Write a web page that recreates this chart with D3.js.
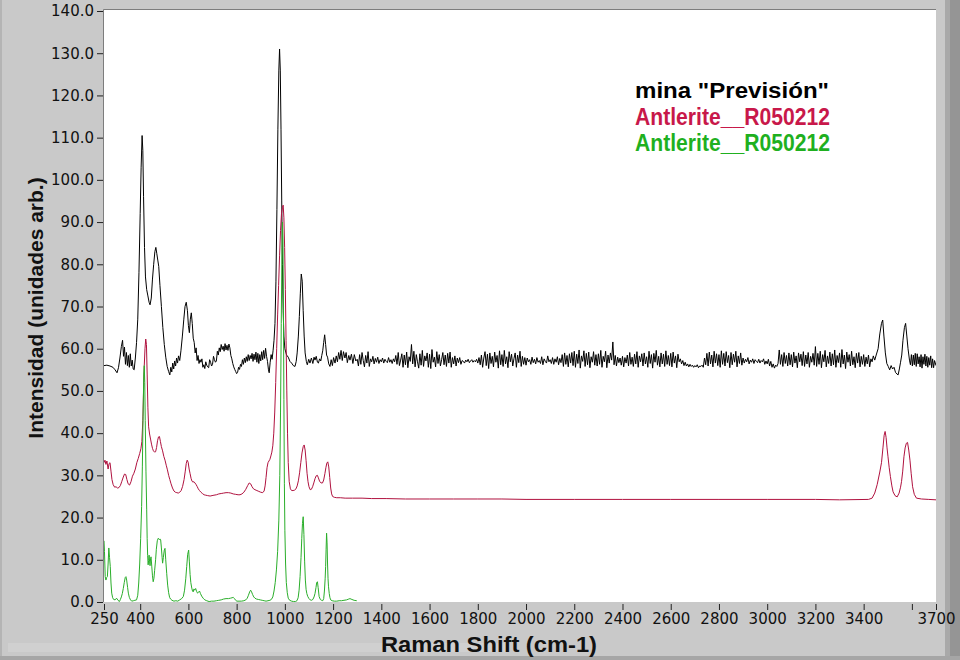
<!DOCTYPE html>
<html>
<head>
<meta charset="utf-8">
<script src="https://cdn.jsdelivr.net/npm/d3@7"></script>
<style>
  html, body { margin: 0; padding: 0; background: #c9c9c9; }
  svg { display: block; }
</style>
</head>
<body>
<svg id="viz" width="960" height="660"></svg>
<script>
// ----- data: [Raman shift (cm-1), intensity] -----

// mina "Previsión" (black) - peaks and baseline up to 1300
const minaLow = [
  [250,56],[262,56.1],[275,55.9],[287,55.6],[296,55],[304,54.3],[310,55.5],[316,57.8],[322,60.5],[327,62],
  [331,58.2],[335,60.4],[339,56.3],[343,59.1],[347,56],[351,58.4],[355,55.6],[359,58.8],[363,55.9],[367,57.3],
  [371,55.2],[375,55],[380,57.8],[385,61.5],[390,67],[395,78],[400,92],[404,103],[408,110.5],[411,107],
  [414,96],[418,84],[422,77],[427,74],[432,72.5],[437,71],[441,70.4],[446,72],[451,76.5],[456,80],
  [461,83],[465,84],[469,82.5],[473,81],[477,79.5],[482,75],[488,70],[494,65],[500,61],[506,58],
  [512,55.8],[518,54.6],[523,53.8],[527,55.6],[531,54.5],[535,56.6],[539,55.2],[543,57.1],[547,55.9],[551,57.8],
  [555,56.6],[559,58.3],[564,57.2],[569,59.5],[575,63],[581,67],[586,70],[591,71],[596,69],[600,65.5],
  [604,63.8],[608,67],[612,68.5],[616,66],[620,62.5],[624,61.5],[628,59],[632,60.2],[636,57.2],[640,58.4],
  [644,56.5],[648,57.4],[652,56.8],[656,57.6],[660,55.6],[664,56.2],[668,55.3],[672,56.9],[676,56.1],[680,55.7],
  [684,55.5],[688,57.4],[692,56.8],[696,55.9],[700,56.3],[704,58.2],[708,57.4],[712,56.8],[716,57.1],[720,59.4],
  [724,58.5],[728,60.2],[732,59.3],[736,61],[740,59.8],[744,60.6],[748,59.4],[752,61.2],[756,59.7],[760,60.8],
  [764,59.6],[768,61.1],[772,60.2],[776,58.4],[780,57.6],[784,56.5],[788,55.7],[792,55.1],[796,54.6],[800,54.1],
  [804,54.4],[808,55.6],[812,55.1],[816,56.3],[820,55.8],[824,57.4],[828,56.3],[832,57.8],[836,56.7],[840,58.1],
  [844,57],[848,58.6],[852,57.2],[856,58.4],[860,57.6],[864,58.9],[868,57],[872,58.7],[876,57.4],[880,59.2],
  [884,56.8],[888,58.9],[892,56.5],[896,58.6],[900,57.1],[904,59.3],[908,57.4],[912,59.6],[916,57.7],[920,60.1],
  [924,58.2],[928,57],[932,55],[935,54.3],[939,56.8],[943,58.6],[947,57.5],[951,59.5],[955,62],[959,66],
  [963,76],[967,93],[971,112],[975,126],[978,131],[981,126],[984,112],[987,95],[990,80],[993,69],
  [996,63],[1000,60],[1007,58.5],[1014,58],[1021,57],[1028,56.6],[1035,56],[1042,55.8],[1047,57],[1051,59],
  [1056,63],[1060,67.6],[1064,73],[1068,77.7],[1072,76],[1076,69],[1080,63],[1084,59],[1089,57],[1093,56.2],
  [1099,57.5],[1104,56.6],[1110,57.8],[1116,56.5],[1121,58],[1125,57.3],[1130,58.2],[1135,56.8],[1139,56.6],[1144,57.6],
  [1149,57.1],[1153,58.4],[1157,59.5],[1161,61.5],[1165,63.3],[1169,61],[1173,58.5],[1177,58],[1182,56.4],[1187,55.8],
  [1192,57.4],[1197,56],[1202,57.9],[1208,56.6],[1213,58.3],[1218,56.9],[1223,59.1],[1228,57.5],[1233,59.6],[1238,57.2],
  [1243,59.3],[1249,57.8],[1254,59.1],[1259,56.7],[1265,58.4],[1270,57.3],[1276,58.7],[1282,56.5],[1288,58.6],[1294,57.1]
];

// mina "Previsión" (black) - noisy flat stretch, one reading every 5 cm-1 from 1300
const minaNoiseStart = 1300;
const minaNoiseStep = 5;
const minaNoise = [
  57.5,55.9,58.6,56.3,59.1,57.2,55.7,58.4,56.6,59.3,55.8,57.6,56.9,58.2,56.4,57.7,56.8,58.0,56.5,57.4,
  56.9,57.8,56.6,57.5,57.0,56.7,57.9,56.8,57.4,56.5,57.6,56.9,58.4,56.3,59.1,56.0,57.3,58.8,55.6,58.5,
  56.2,59.2,55.5,58.1,57.0,61.0,56.4,59.4,55.7,58.6,56.9,55.4,58.8,56.1,59.6,55.8,58.3,57.1,59.0,55.6,
  58.7,55.3,59.8,56.8,58.0,55.7,59.3,56.5,58.6,55.9,57.4,59.1,56.2,58.5,55.8,58.9,56.6,59.2,55.6,57.9,
  56.4,58.3,55.9,57.8,56.7,57.9,56.3,57.2,57.0,56.6,57.3,56.9,57.5,56.7,57.1,57.4,56.8,57.2,56.9,57.5,
  56.6,57.9,56.2,58.5,55.6,57.8,59.3,56.0,58.7,55.3,59.0,56.5,58.2,55.7,59.2,56.8,58.4,55.4,59.5,56.2,
  58.6,55.8,59.6,56.4,58.1,55.5,59.3,56.9,58.7,55.9,57.7,59.0,55.6,58.5,56.7,59.4,55.8,58.2,56.3,57.9,
  56.1,57.8,56.9,57.4,56.3,58.0,56.7,57.5,56.4,57.9,56.8,57.2,56.5,58.1,56.2,57.6,57.0,56.6,58.3,56.9,
  57.4,56.5,57.9,56.3,57.6,56.8,58.1,56.2,57.7,56.7,58.6,55.8,59.0,56.3,58.4,55.7,58.8,56.6,59.1,56.0,
  59.4,55.6,58.7,56.5,59.7,55.4,58.3,57.0,59.5,55.8,58.9,56.2,59.2,55.5,58.1,56.8,59.3,56.1,58.6,55.9,
  58.8,56.3,59.6,55.6,58.2,56.9,59.4,55.5,58.5,56.6,59.0,57.3,61.6,56.2,58.4,55.9,58.0,56.7,57.8,56.1,
  58.2,55.7,57.9,56.6,58.5,55.9,59.1,56.3,58.0,55.8,58.7,56.4,59.3,55.6,58.3,56.9,58.8,55.9,59.0,56.4,
  58.1,55.6,59.4,56.5,58.6,55.4,58.9,56.8,59.6,56.1,58.2,55.7,59.0,56.4,58.7,55.8,59.5,56.3,58.4,56.0,
  58.9,55.7,59.2,56.6,58.3,55.5,58.7,56.9,57.6,56.4,57.2,56.0,56.8,55.9,56.4,55.7,56.3,55.8,56.1,55.6,
  56.0,55.7,56.2,55.5,55.9,55.8,56.1,55.6,57.8,56.2,58.9,55.9,59.2,56.4,58.5,55.7,59.4,56.6,58.8,56.0,
  58.6,55.6,59.5,56.3,58.9,55.9,59.3,56.7,58.4,55.5,59.1,56.2,58.7,56.8,59.4,55.7,58.3,56.5,59.0,56.1,
  57.8,56.6,57.5,56.9,57.9,56.4,57.3,56.8,57.6,56.5,57.4,57.0,56.7,57.5,56.6,57.2,56.9,57.6,56.3,57.1,
  56.4,57.5,55.9,57.0,55.6,56.4,55.4,56.1,55.8,56.5,59.7,56.3,58.6,55.8,59.1,56.5,58.4,55.9,59.0,56.2,
  58.6,55.7,59.2,56.6,58.3,55.5,59.0,56.9,58.7,56.0,59.3,55.8,58.5,56.4,59.1,55.6,58.2,56.8,58.9,56.1,
  60.5,55.8,58.9,56.3,59.4,55.5,58.6,56.9,59.6,55.7,58.3,56.5,59.2,55.9,58.8,56.2,59.7,55.6,58.4,56.7,
  59.0,55.6,59.8,56.4,58.5,55.3,59.2,56.8,58.6,55.9,59.4,56.2,58.1,55.5,58.9,56.6,59.1,55.7,58.2,56.3,
  58.6,55.8,58.0,56.4,58.5,55.7,57.6,56.9,58.3
];

// mina "Previsión" (black) - OH region
const minaHigh = [
  [3446,57.3],[3452,58.5],[3460,60],[3467,63.5],[3474,66],[3479,66.8],[3484,63],[3490,59],[3496,56.5],[3502,55.8],
  [3508,55],[3514,56],[3520,55.2],[3526,55.6],[3532,54.4],[3538,54],[3543,53.8],[3548,55.2],[3553,56.8],[3558,58.5],
  [3563,62],[3569,65],[3574,66],[3579,63],[3584,60],[3590,57.3],[3594,56.2],[3598,58.6],[3602,55.9],[3606,58.5],
  [3610,56.2],[3614,58.9],[3618,55.8],[3622,58.8],[3626,56.4],[3630,58.1],[3634,55.7],[3638,58.6],[3642,55.4],[3646,58.1],
  [3650,56.3],[3654,58.7],[3658,55.9],[3662,58.2],[3666,55.6],[3670,57.9],[3674,56.1],[3678,58.3],[3682,55.5],[3686,57.6],
  [3690,55.5],[3694,57.2],[3700,56]
];

// Antlerite__R050212 (red)
const antleriteRed = [
  [250,33],[254,33.6],[258,32.6],[262,33.4],[267,31.5],[271,32.8],[275,33],[279,31],[283,29],[288,27.8],
  [294,27.2],[300,27.3],[306,27],[312,27.1],[318,27.6],[324,28.6],[330,29.6],[335,30.3],[340,30.2],[345,29],
  [350,28],[356,27.7],[362,28.5],[368,29.8],[374,30.5],[380,31.5],[386,33],[392,34],[398,35.2],[403,36.3],
  [407,38],[411,43],[414,50],[417,56],[420,60],[423,62.3],[426,61],[429,54],[432,46],[435,41.5],
  [439,39.8],[443,38.6],[447,37.4],[451,36.4],[455,35.8],[460,35.5],[464,35.6],[468,36.6],[472,38.2],[476,39.1],
  [480,39.2],[484,38],[488,36.8],[493,35.8],[498,34.5],[503,33.6],[508,32.4],[513,31.3],[518,30],[523,29],
  [528,28],[534,27],[540,26.3],[546,26],[552,25.9],[558,25.8],[564,26],[570,26.4],[576,27.4],[582,29],
  [587,31],[591,32.8],[595,33.6],[599,33.1],[603,31.5],[607,30.4],[611,29.3],[615,28.6],[619,28.4],[623,28.5],
  [627,28.2],[631,27.9],[636,27.4],[641,26.8],[646,26.4],[652,26],[658,25.7],[665,25.4],[672,25.3],[680,25.2],
  [690,25.1],[698,25.2],[706,25.3],[716,25.4],[726,25.6],[736,25.7],[746,25.8],[756,25.9],[766,25.9],[776,25.8],
  [786,25.6],[796,25.5],[806,25.4],[814,25.4],[822,25.6],[830,26],[838,26.7],[846,27.6],[852,28.2],[858,28],
  [864,27.3],[870,26.8],[876,26.6],[884,26.4],[892,26.2],[900,26],[908,25.9],[914,26.3],[918,27.5],[922,29.5],
  [926,31.8],[930,33],[934,33.4],[938,33.8],[942,34.6],[946,35.5],[950,37],[954,40],[958,45],[962,52],
  [966,60],[970,68],[974,75],[978,82],[982,88],[986,92],[990,93.5],[993,94],[996,91],[999,84],
  [1002,74],[1005,62],[1008,50],[1011,40],[1014,33],[1018,28.5],[1023,26.8],[1028,26.4],[1034,26.4],[1040,26.5],
  [1046,26.8],[1051,27.5],[1056,28.7],[1061,30.6],[1066,33],[1071,35.3],[1076,36.8],[1080,37.2],[1084,36],[1088,33.5],
  [1092,30.5],[1096,28.5],[1100,27.3],[1105,26.6],[1110,26.7],[1115,27.3],[1120,28.2],[1125,29.2],[1130,29.9],[1135,30],
  [1139,29.4],[1144,28.6],[1150,28.2],[1156,28.2],[1161,28.9],[1166,30.4],[1170,31.8],[1174,32.9],[1178,33.2],[1182,32],
  [1186,29.5],[1190,27],[1194,25.6],[1198,25],[1205,24.8],[1215,24.7],[1230,24.7],[1250,24.6],[1280,24.6],[1320,24.6],
  [1360,24.5],[1420,24.5],[1500,24.4],[1600,24.4],[1700,24.4],[1800,24.4],[1900,24.4],[2000,24.3],[2200,24.3],[2400,24.3],
  [2600,24.3],[2800,24.3],[3000,24.3],[3200,24.3],[3300,24.2],[3420,24.3],[3435,24.6],[3446,25.8],[3456,27.8],[3467,30.8],
  [3474,33],[3480,36.5],[3485,39.5],[3489,40.4],[3493,39],[3497,36.5],[3501,34.4],[3506,31.8],[3511,29.7],[3517,27.5],
  [3522,26.1],[3530,25.2],[3539,24.9],[3547,25.8],[3553,27.2],[3557,28.5],[3562,31],[3567,34.4],[3572,36.5],[3577,37.6],
  [3582,37.8],[3587,36],[3592,33.6],[3597,30.5],[3603,27.3],[3610,25.5],[3619,24.6],[3640,24.4],[3670,24.3],[3700,24.2]
];

// Antlerite__R050212 (green)
const antleriteGreen = [
  [250,14.5],[252,12],[255,6],[258,5.2],[261,5.8],[264,6],[267,9],[270,12.8],[273,10.5],[276,8.4],
  [279,4.5],[282,2.1],[286,1],[290,0.6],[296,0.5],[302,0.9],[308,0.4],[314,0.1],[318,0.6],[322,1.2],
  [326,2],[330,3.2],[334,4.6],[338,5.8],[341,6],[344,5.2],[348,3.4],[351,2.1],[355,1.1],[360,0.5],
  [365,0.2],[372,0.3],[378,0.4],[385,0.5],[390,1.6],[394,4.5],[398,9],[402,15],[406,22.6],[409,32],
  [412,44],[415,54],[417,56],[419,52],[421,43],[424,31],[427,22],[429,15],[431,11],[433,8.8],
  [435,9.8],[437,11.1],[439,9.5],[441,8.6],[443,10.2],[445,10.7],[448,8.5],[451,6.2],[454,4.8],[457,5.6],
  [460,7.5],[464,10],[467,12.5],[471,14.5],[475,15.1],[479,14.8],[483,14.9],[485,14.7],[488,12.8],[491,10.5],
  [493,9.2],[496,10.5],[500,12.3],[503,12.7],[506,10],[510,6.8],[514,4],[518,2.2],[522,1.1],[526,0.7],
  [532,0.4],[540,0.2],[548,0.3],[556,0.2],[564,0.5],[572,0.8],[579,1.3],[584,2.8],[589,5.5],[593,8.4],
  [597,11.3],[601,12.3],[604,9.5],[607,6.5],[610,4.6],[614,3.3],[617,2.6],[620,2.4],[623,3.1],[626,2.8],
  [630,3.2],[634,2.5],[638,2.1],[642,2.3],[646,2.6],[650,2],[655,1.4],[661,0.9],[668,0.5],[676,0.3],
  [686,0.1],[696,0.2],[706,0.2],[716,0.3],[726,0.4],[736,0.5],[746,0.7],[756,0.8],[766,0.8],[774,0.9],
  [781,1],[786,1.1],[791,0.8],[796,0.4],[801,0.2],[810,0.2],[820,0.2],[830,0.3],[838,0.5],[844,0.9],
  [849,1.6],[854,2.4],[858,2.8],[862,2.4],[866,1.8],[871,1.2],[876,0.9],[882,0.7],[890,0.6],[898,0.5],
  [906,0.4],[914,0.3],[922,0.2],[930,0.3],[938,0.4],[944,0.6],[950,1.2],[955,2.6],[960,4.6],[965,7.6],
  [970,12],[975,19.4],[979,30],[982,45],[985,66],[988,84],[990,90],[992,86],[994,70],[996,48],
  [998,28],[1000,17],[1003,9],[1006,4.6],[1010,2.2],[1014,0.9],[1020,0.4],[1028,0.2],[1036,0.1],[1044,0.1],
  [1050,0.3],[1055,1],[1059,2.8],[1063,6],[1067,10.5],[1070,15],[1073,18.6],[1076,20.2],[1079,16],[1082,9.5],
  [1085,5.2],[1088,3],[1091,2],[1095,1.3],[1100,0.8],[1105,0.5],[1110,0.4],[1116,0.6],[1121,1.2],[1125,2],
  [1129,3.4],[1132,4.6],[1135,4.8],[1138,3.4],[1142,1.3],[1147,0.6],[1152,0.4],[1157,0.3],[1161,0.8],[1164,2.6],
  [1167,5.5],[1169,8.4],[1171,12.5],[1173,16.3],[1175,14],[1177,9],[1179,5.5],[1181,3.6],[1184,2],[1187,1],
  [1190,0.5],[1196,0.3],[1205,0.2],[1215,0.2],[1225,0.3],[1235,0.3],[1245,0.4],[1256,0.5],[1265,0.7],[1270,0.8],
  [1278,0.6],[1287,0.4],[1298,0.3]
];

// axis ticks
const xTickValues = [250,400,600,800,1000,1200,1400,1600,1800,2000,2200,2400,2600,2800,3000,3200,3400,3600,3700];
const xTickHidden = [3600];   // tick mark drawn, label left out (as in the picture)
const yTickValues = [0,10,20,30,40,50,60,70,80,90,100,110,120,130,140];

const legendNames = ['mina "Previsión"', "Antlerite__R050212", "Antlerite__R050212"];
const legendColors = ["#000000", "#c8184a", "#1fb01f"];
const lineColors = ["#000000", "#b0123f", "#2aae2a"];

// ----- build the black series from its three pieces -----
const mina = minaLow
  .concat(minaNoise.map((v, i) => [minaNoiseStart + i * minaNoiseStep, v]))
  .concat(minaHigh);

const svg = d3.select("#viz");
const W = 960, H = 660;
const plot = { left: 104, right: 936, top: 11, bottom: 602 };

// frame pieces (LabVIEW-like gray panel)
svg.append("rect").attr("width", W).attr("height", H).attr("fill", "#c9c9c9");
svg.append("rect").attr("x", 0).attr("y", 0).attr("width", 2).attr("height", H).attr("fill", "#b4b4b4");
svg.append("rect").attr("x", 945).attr("y", 0).attr("width", 15).attr("height", H).attr("fill", "#a9a9a9");
svg.append("rect").attr("x", 950).attr("y", 0).attr("width", 10).attr("height", H).attr("fill", "#959595");
svg.append("rect").attr("x", 8).attr("y", 643).attr("width", 500).attr("height", 9).attr("fill", "#d0d0d0");
svg.append("rect").attr("x", 0).attr("y", 656).attr("width", W).attr("height", 4).attr("fill", "#a6a6a6");

// plot background
svg.append("rect")
  .attr("x", plot.left).attr("y", plot.top - 1)
  .attr("width", plot.right - plot.left).attr("height", plot.bottom - plot.top + 1)
  .attr("fill", "#ffffff");
svg.append("path")
  .attr("d", `M${plot.left - 0.5},${plot.bottom}V${plot.top - 1.5}H${plot.right}`)
  .attr("fill", "none").attr("stroke", "#7d7d7d").attr("stroke-width", 1);

// scales
const x = d3.scaleLinear().domain([250, 3700]).range([plot.left, plot.right]);
const y = d3.scaleLinear().domain([0, 140]).range([plot.bottom, plot.top]);

// axes
const xAxis = svg.append("g")
  .attr("transform", `translate(0,${plot.bottom + 2})`)
  .call(d3.axisBottom(x)
    .tickValues(xTickValues)
    .tickSize(6)
    .tickPadding(3)
    .tickFormat(d => xTickHidden.includes(d) ? "" : d3.format("d")(d)));
xAxis.select(".domain").remove();

const yAxis = svg.append("g")
  .attr("transform", `translate(${plot.left - 1},0)`)
  .call(d3.axisLeft(y)
    .tickValues(yTickValues)
    .tickSize(6)
    .tickPadding(3)
    .tickFormat(d3.format(".1f")));
yAxis.select(".domain").remove();

svg.selectAll(".tick line").attr("stroke", "#222");
svg.selectAll(".tick text")
  .attr("fill", "#111")
  .style("font-family", "'DejaVu Sans', Verdana, sans-serif")
  .style("font-size", "15px");

// spectra
const line = d3.line()
  .x(d => x(d[0]))
  .y(d => y(d[1]));

svg.append("clipPath").attr("id", "plotclip")
  .append("rect")
  .attr("x", plot.left).attr("y", plot.top - 1)
  .attr("width", plot.right - plot.left).attr("height", plot.bottom - plot.top + 1);

const g = svg.append("g").attr("clip-path", "url(#plotclip)");
[mina, antleriteRed, antleriteGreen].forEach((series, i) => {
  g.append("path")
    .datum(series)
    .attr("d", line)
    .attr("fill", "none")
    .attr("stroke", lineColors[i])
    .attr("stroke-width", 1)
    .attr("stroke-linejoin", "round");
});

// legend
const legendY = [98, 125, 151];
const legendLen = [194, 195, 195];
const legendSize = [22, 23, 23];
legendNames.forEach((name, i) => {
  svg.append("text")
    .attr("x", 635).attr("y", legendY[i])
    .attr("fill", legendColors[i])
    .attr("textLength", legendLen[i])
    .attr("lengthAdjust", "spacingAndGlyphs")
    .style("font-family", "'Liberation Sans', Arial, sans-serif")
    .style("font-weight", "bold")
    .style("font-size", legendSize[i] + "px")
    .text(name);
});

// axis titles
svg.append("text")
  .attr("x", 381).attr("y", 652)
  .attr("textLength", 216)
  .attr("lengthAdjust", "spacingAndGlyphs")
  .attr("fill", "#111")
  .style("font-family", "'Liberation Sans', Arial, sans-serif")
  .style("font-weight", "bold")
  .style("font-size", "22px")
  .text("Raman Shift (cm-1)");

svg.append("text")
  .attr("transform", "translate(43,308) rotate(-90)")
  .attr("text-anchor", "middle")
  .attr("fill", "#111")
  .style("font-family", "'Liberation Sans', Arial, sans-serif")
  .style("font-weight", "bold")
  .style("font-size", "21px")
  .text("Intensidad (unidades arb.)");
</script>
</body>
</html>
